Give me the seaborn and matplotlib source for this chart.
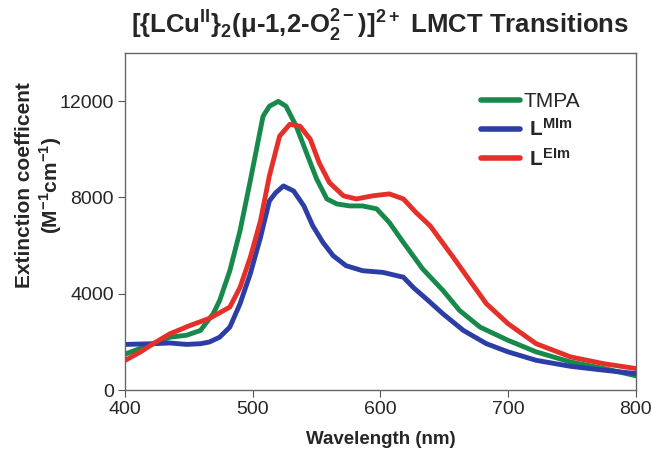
import pandas as pd
import matplotlib
matplotlib.use("Agg")
import matplotlib.pyplot as plt
import seaborn as sns

# values (nm, M^-1 cm^-1)
tmpa_nm = [400, 422, 435, 448, 459, 469, 474, 482, 490, 498, 508, 513, 520, 526,
           534, 542, 550, 558, 566, 576, 586, 597, 607, 618, 633, 649, 662, 678,
           700, 722, 749, 775, 800]
tmpa_eps = [1500, 1930, 2200, 2280, 2480, 3180, 3720, 4960, 6620, 8690, 11370,
            11790, 11990, 11790, 10960, 9860, 8770, 7940, 7730, 7650, 7650, 7530,
            6960, 6130, 5040, 4140, 3310, 2620, 2070, 1590, 1170, 900, 600]

mim_nm = [400, 422, 435, 448, 459, 466, 474, 482, 490, 498, 506, 513, 518, 524,
          532, 540, 547, 555, 563, 573, 586, 602, 618, 626, 636, 649, 665, 683,
          700, 722, 749, 775, 800]
mim_eps = [1900, 1930, 1960, 1900, 1930, 2000, 2200, 2620, 3590, 4830, 6340, 7860,
           8200, 8480, 8270, 7650, 6820, 6130, 5580, 5170, 4960, 4890, 4690, 4250,
           3790, 3170, 2480, 1930, 1590, 1240, 990, 830, 690]

eim_nm = [400, 412, 422, 435, 451, 466, 482, 490, 498, 506, 513, 521, 529, 537,
          545, 552, 560, 571, 581, 594, 607, 618, 628, 639, 657, 670, 683, 700,
          722, 749, 775, 800]
eim_eps = [1240, 1590, 1930, 2340, 2690, 2980, 3450, 4270, 5510, 7030, 8900, 10550,
           11040, 10960, 10420, 9440, 8620, 8070, 7940, 8070, 8150, 7940, 7370, 6820,
           5520, 4550, 3590, 2760, 1930, 1380, 1100, 900]

labels = ["TMPA", r" $\mathbf{L^{MIm}}$", r" $\mathbf{L^{EIm}}$"]
colors = ["#17894a", "#2c3ea6", "#e5302a"]
yticks = [0, 4000, 8000, 12000]
xticks = [400, 500, 600, 700, 800]

frames = []
for lab, nm, eps in zip(labels, [tmpa_nm, mim_nm, eim_nm], [tmpa_eps, mim_eps, eim_eps]):
    frames.append(pd.DataFrame({"nm": nm, "eps": eps, "ligand": lab}))
df = pd.concat(frames, ignore_index=True)

sns.set_style("ticks")
plt.rcParams["font.family"] = ["Liberation Sans", "DejaVu Sans"]
plt.rcParams["mathtext.fontset"] = "custom"
plt.rcParams["mathtext.rm"] = "Liberation Sans"
plt.rcParams["mathtext.bf"] = "Liberation Sans:bold"

fig, ax = plt.subplots(figsize=(6.52, 4.49), dpi=100)
fig.subplots_adjust(left=0.192, right=0.975, bottom=0.131, top=0.882)

sns.lineplot(data=df, x="nm", y="eps", hue="ligand", hue_order=labels,
             palette=colors, linewidth=3.5, ax=ax, sort=False)
for line in ax.get_lines():
    line.set_solid_joinstyle("round")
    line.set_solid_capstyle("round")

ax.set_xlim(400, 800)
ax.set_ylim(0, 14000)
ax.set_xticks(xticks)
ax.set_yticks(yticks)
ax.tick_params(labelsize=14, direction="out", length=5, color="#555555", pad=3)
for s in ax.spines.values():
    s.set_visible(True)
    s.set_color("#666666")
    s.set_linewidth(1.0)

ax.set_xlabel("Wavelength (nm)", fontsize=13.5, fontweight="bold", labelpad=9)
ax.set_ylabel("Extinction coefficent\n(M$^{\\mathbf{-1}}$cm$^{\\mathbf{-1}}$)",
              fontsize=15, fontweight="bold", linespacing=1.15)
ax.yaxis.set_label_coords(-0.12, 0.608)
ax.set_title("[{LCu$^{\\mathbf{II}}$}$_{\\mathbf{2}}$(μ-1,2-O$_{\\mathbf{2}}^{\\mathbf{2-}}$)]$^{\\mathbf{2+}}$ LMCT Transitions",
             fontsize=18.5, fontweight="bold", pad=14)

leg = ax.legend(loc="upper left", bbox_to_anchor=(0.66, 0.94), frameon=False,
                fontsize=15, handlelength=1.9, handletextpad=0.15, labelspacing=0.35)
for line in leg.get_lines():
    line.set_linewidth(4)

fig.savefig("out.png", dpi=100)
